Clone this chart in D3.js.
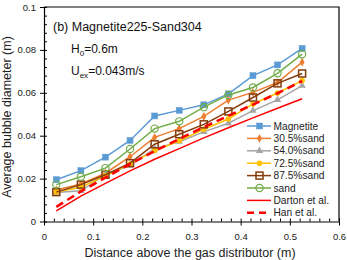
<!doctype html>
<html lang="en">
<head>
<meta charset="UTF-8">
<title>Bubble diameter</title>
<style>
  body { margin: 0; background: #fff; }
  svg { font-family: "Liberation Sans", Arial, sans-serif; }
</style>
</head>
<body>
<div id="chart"></div>
<script src="https://d3js.org/d3.v7.min.js"></script>
<script>
  // heights above the distributor (m)
  const heights = [0.025, 0.075, 0.125, 0.175, 0.225, 0.275, 0.325, 0.375, 0.425, 0.475, 0.525]

  const magnetite = [0.0195, 0.0237, 0.0300, 0.0378, 0.0492, 0.0518, 0.0544, 0.0595, 0.0680, 0.0730, 0.0807]
  const sand305 = [0.0147, 0.0175, 0.0225, 0.0302, 0.0392, 0.0433, 0.0490, 0.0566, 0.0602, 0.0648, 0.0743]
  const sand540 = [0.0135, 0.0143, 0.0218, 0.0262, 0.0340, 0.0372, 0.0418, 0.0458, 0.0517, 0.0567, 0.0633]
  const sand725 = [0.0138, 0.0160, 0.0213, 0.0268, 0.0330, 0.0376, 0.0430, 0.0478, 0.0548, 0.0599, 0.0657]
  const sand875 = [0.0137, 0.0172, 0.0218, 0.0272, 0.0360, 0.0407, 0.0453, 0.0513, 0.0578, 0.0644, 0.0690]
  const sandOnly = [0.0172, 0.0209, 0.0249, 0.0338, 0.0433, 0.0467, 0.0533, 0.0590, 0.0625, 0.0691, 0.0780]
  const darton = [0.0050, 0.0118, 0.0178, 0.0236, 0.0290, 0.0340, 0.0390, 0.0437, 0.0483, 0.0528, 0.0572]
  const han = [0.0068, 0.0140, 0.0205, 0.0268, 0.0328, 0.0385, 0.0440, 0.0493, 0.0545, 0.0598, 0.0655]

  const seriesNames = ['Magnetite', '30.5%sand', '54.0%sand', '72.5%sand', '87.5%sand', 'sand', 'Darton et al.', 'Han et al.']
  const xTicks = [0, 0.1, 0.2, 0.3, 0.4, 0.5, 0.6]
  const yTicks = [0, 0.02, 0.04, 0.06, 0.08, 0.1]

  ;(function () {
    const series = [
      {name: seriesNames[0], values: magnetite, color: '#5b9bd5', marker: 'square', fill: true},
      {name: seriesNames[1], values: sand305, color: '#ed7d31', marker: 'diamond', fill: true},
      {name: seriesNames[2], values: sand540, color: '#a5a5a5', marker: 'triangle', fill: true},
      {name: seriesNames[3], values: sand725, color: '#ffc000', marker: 'circle', fill: true},
      {name: seriesNames[4], values: sand875, color: '#843c0c', marker: 'square', fill: false},
      {name: seriesNames[5], values: sandOnly, color: '#70ad47', marker: 'circle', fill: false},
      {name: seriesNames[6], values: darton, color: '#ff0000', marker: null, width: 1.5},
      {name: seriesNames[7], values: han, color: '#ff0000', marker: null, width: 2.6, dash: '8,5'}
    ]

    const width = 347
    const height = 260
    const mLeft = 44, mRight = 339, mTop = 7, mBottom = 221.5

    const svg = d3.select('#chart').append('svg')
      .attr('width', width)
      .attr('height', height)

    const x = d3.scaleLinear().domain([0, 0.6]).range([mLeft, mRight])
    const y = d3.scaleLinear().domain([0, 0.1]).range([mBottom, mTop])

    // frame
    svg.append('path')
      .attr('d', `M${mLeft},${mTop}H${mRight}V${mBottom}`)
      .attr('fill', 'none').attr('stroke', '#000').attr('stroke-width', 1.2)

    // minor ticks (inside)
    const xMinor = d3.range(0, 0.6001, 0.02)
    svg.append('g').attr('transform', `translate(0,${mBottom})`)
      .call(d3.axisTop(x).tickValues(xMinor).tickSize(3).tickFormat(''))
      .call(g => g.select('.domain').remove())
    const yMinor = d3.range(0, 0.1001, 0.004)
    svg.append('g').attr('transform', `translate(${mLeft},0)`)
      .call(d3.axisRight(y).tickValues(yMinor).tickSize(3).tickFormat(''))
      .call(g => g.select('.domain').remove())

    const xAxis = svg.append('g').attr('transform', `translate(0,${mBottom})`)
      .call(d3.axisBottom(x).tickValues(xTicks).tickSize(4).tickSizeOuter(0).tickFormat(d3.format('')))
    const yAxis = svg.append('g').attr('transform', `translate(${mLeft},0)`)
      .call(d3.axisLeft(y).tickValues(yTicks).tickSize(4).tickSizeOuter(0).tickFormat(d3.format('')))

    ;[xAxis, yAxis].forEach(g => {
      g.select('.domain').attr('stroke-width', 1.2)
      g.selectAll('text').attr('font-size', 9.5).attr('fill', '#222')
        .attr('font-family', '"Liberation Sans", Arial, sans-serif')
    })
    xAxis.selectAll('text').attr('dy', '1.2em')
    yAxis.selectAll('text').attr('x', -8)

    // axis titles
    svg.append('text')
      .attr('x', 190).attr('y', 257)
      .attr('text-anchor', 'middle').attr('font-size', 12.5).attr('fill', '#222')
      .text('Distance above the gas distributor (m)')
    svg.append('text')
      .attr('transform', 'translate(11,117) rotate(-90)')
      .attr('text-anchor', 'middle').attr('font-size', 12.5).attr('fill', '#222')
      .text('Average bubble diameter (m)')

    // annotations
    svg.append('text').attr('x', 53).attr('y', 31).attr('font-size', 12.5).attr('fill', '#111')
      .text('(b) Magnetite225-Sand304')
    const h0 = svg.append('text').attr('x', 71).attr('y', 53).attr('font-size', 12).attr('fill', '#111')
    h0.append('tspan').text('H')
    h0.append('tspan').attr('font-size', 8).attr('dy', 3).text('0')
    h0.append('tspan').attr('dy', -3).text('=0.6m')
    const uex = svg.append('text').attr('x', 71).attr('y', 75).attr('font-size', 12).attr('fill', '#111')
    uex.append('tspan').text('U')
    uex.append('tspan').attr('font-size', 8).attr('dy', 3).text('ex')
    uex.append('tspan').attr('dy', -3).text('=0.043m/s')

    function drawMarker(g, s, cx, cy) {
      if (s.marker === 'square') {
        const size = s.fill ? 6 : 7
        g.append('rect').attr('x', cx - size / 2).attr('y', cy - size / 2)
          .attr('width', size).attr('height', size)
          .attr('fill', s.fill ? s.color : 'none').attr('stroke', s.color).attr('stroke-width', s.fill ? 0.5 : 1.5)
      } else if (s.marker === 'diamond') {
        g.append('path').attr('d', d3.symbol(d3.symbolDiamond, 22)())
          .attr('transform', `translate(${cx},${cy})`).attr('fill', s.color)
      } else if (s.marker === 'triangle') {
        g.append('path').attr('d', d3.symbol(d3.symbolTriangle, 24)())
          .attr('transform', `translate(${cx},${cy})`).attr('fill', s.color)
      } else if (s.marker === 'circle') {
        g.append('circle').attr('cx', cx).attr('cy', cy).attr('r', s.fill ? 2.8 : 3.6)
          .attr('fill', s.fill ? s.color : 'none').attr('stroke', s.color).attr('stroke-width', s.fill ? 0 : 1.2)
      }
    }

    const line = d3.line().x((d, i) => x(heights[i])).y(d => y(d))
    const plot = svg.append('g')
    series.forEach(s => {
      plot.append('path')
        .datum(s.values)
        .attr('d', line)
        .attr('fill', 'none')
        .attr('stroke', s.color)
        .attr('stroke-width', s.width || 1.5)
        .attr('stroke-dasharray', s.dash || null)
      if (s.marker) {
        const mg = plot.append('g')
        s.values.forEach((v, i) => drawMarker(mg, s, x(heights[i]), y(v)))
      }
    })

    // legend
    const legend = svg.append('g')
    series.forEach((s, i) => {
      const ly = 126 + i * 12.4
      legend.append('line')
        .attr('x1', 247).attr('x2', 271).attr('y1', ly).attr('y2', ly)
        .attr('stroke', s.color).attr('stroke-width', s.width || 1.5)
        .attr('stroke-dasharray', s.dash ? '7,5' : null)
      if (s.marker) drawMarker(legend, s, 259.5, ly)
      legend.append('text')
        .attr('x', 273.5).attr('y', ly + 3.6)
        .attr('font-size', 10.2).attr('fill', '#222')
        .text(s.name)
    })
  })()
</script>
</body>
</html>
